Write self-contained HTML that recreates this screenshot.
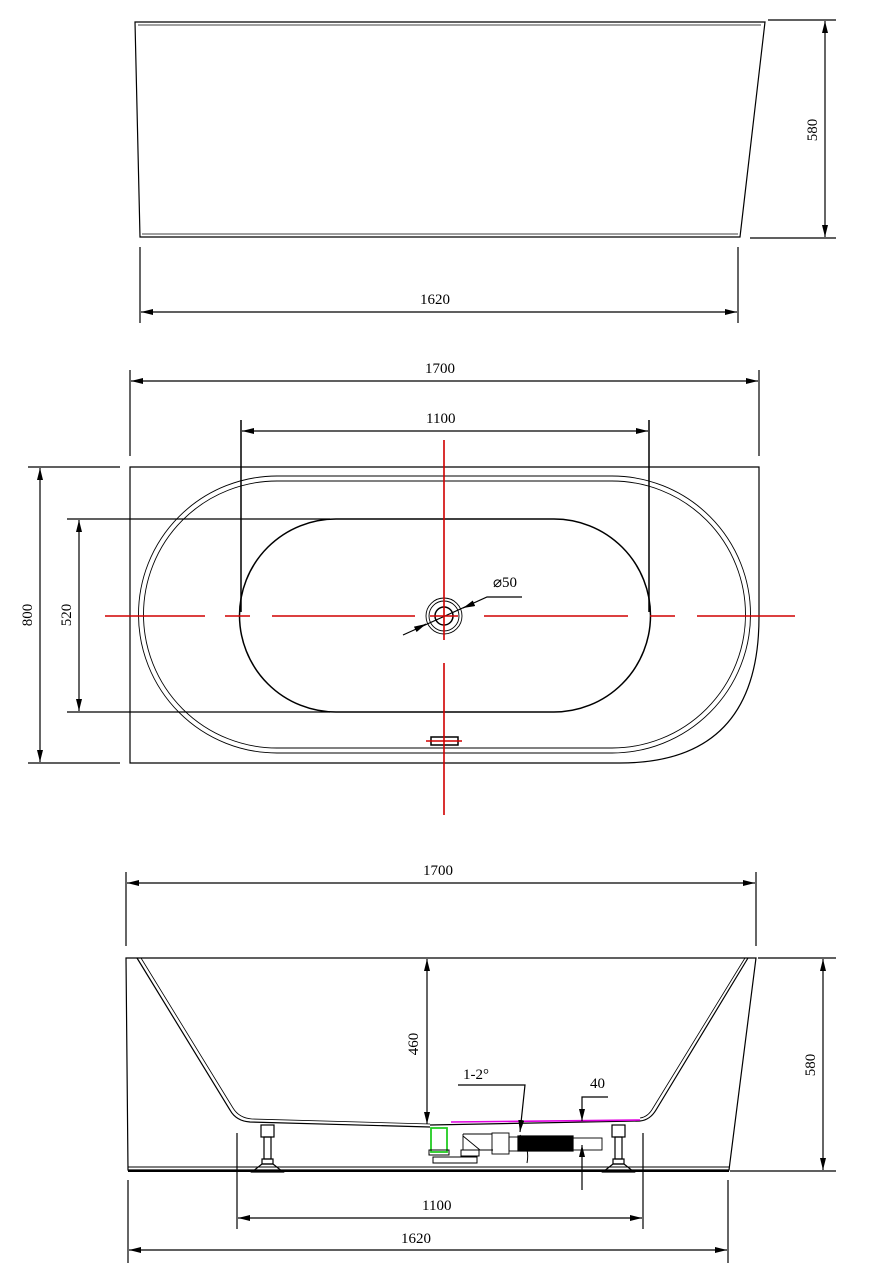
<!DOCTYPE html>
<html><head><meta charset="utf-8"><style>html,body{margin:0;padding:0;background:#fff}svg{display:block}text{font-family:"Liberation Serif",serif;font-size:15px;fill:#000}</style></head><body>
<svg width="888" height="1288" viewBox="0 0 888 1288" xmlns="http://www.w3.org/2000/svg">
<defs>
<marker id="a" viewBox="0 0 12 6" refX="12" refY="3" markerWidth="12" markerHeight="6" orient="auto-start-reverse" markerUnits="userSpaceOnUse"><path d="M0,0L12,3L0,6z" fill="#000"/></marker>
</defs>
<g fill="none" stroke="#000" stroke-width="1.2">
<!-- TOP VIEW -->
<polygon points="135,22 765,22 740,237 140,237"/>
<polyline points="138,25 761,25" stroke-width="0.8"/>
<line x1="142" y1="234" x2="738" y2="234" stroke-width="0.8"/>
<line x1="140" y1="247" x2="140" y2="323"/>
<line x1="738" y1="247" x2="738" y2="323"/>
<line x1="141" y1="312" x2="737" y2="312" marker-start="url(#a)" marker-end="url(#a)"/>
<line x1="768" y1="20" x2="836" y2="20"/>
<line x1="750" y1="238" x2="836" y2="238"/>
<line x1="825" y1="21" x2="825" y2="237" marker-start="url(#a)" marker-end="url(#a)"/>

<!-- PLAN VIEW -->
<path d="M130,467 L759,467 L759,617 Q759,763 620,763 L130,763 Z"/>
<path d="M277,476 L612,476 A138,138 0 0 1 612,753 L277,753 A138,138 0 0 1 277,476 Z" stroke-width="0.9"/>
<path d="M277,481 L612,481 A133,133 0 0 1 612,748 L277,748 A133,133 0 0 1 277,481 Z" stroke-width="0.9"/>
<path d="M336,519 L554,519 A96.5,96.5 0 0 1 554,712 L336,712 A96.5,96.5 0 0 1 336,519 Z" stroke-width="1.5"/>
<line x1="130" y1="370" x2="130" y2="456"/>
<line x1="759" y1="370" x2="759" y2="456"/>
<line x1="131" y1="381" x2="758" y2="381" marker-start="url(#a)" marker-end="url(#a)"/>
<line x1="241" y1="420" x2="241" y2="612" stroke-width="1.5"/>
<line x1="649" y1="420" x2="649" y2="612" stroke-width="1.5"/>
<line x1="242" y1="431" x2="648" y2="431" marker-start="url(#a)" marker-end="url(#a)"/>
<line x1="28" y1="467" x2="120" y2="467"/>
<line x1="28" y1="763" x2="120" y2="763"/>
<line x1="40" y1="468" x2="40" y2="762" marker-start="url(#a)" marker-end="url(#a)"/>
<line x1="67" y1="519" x2="330" y2="519"/>
<line x1="67" y1="712" x2="330" y2="712"/>
<line x1="79" y1="520" x2="79" y2="711" marker-start="url(#a)" marker-end="url(#a)"/>
<circle cx="444" cy="616" r="18" stroke-width="0.9"/>
<circle cx="444" cy="616" r="15" stroke-width="0.9"/>
<circle cx="444" cy="616" r="9" stroke-width="1.5"/>
<polyline points="403,635 487,597 522,597"/>
<line x1="420" y1="627" x2="426" y2="624" marker-end="url(#a)"/>
<line x1="470" y1="605" x2="463" y2="608" marker-end="url(#a)"/>
<rect x="431" y="737" width="27" height="8" stroke-width="1.5"/>
</g>
<g stroke="#d00000" stroke-width="1.6" fill="none">
<path d="M105,616H205M225,616H250M272,616H415M430,616H458M484,616H628M650,616H675M697,616H795"/>
<path d="M444,440V640M444,663V815M426,741H462"/>
</g>
<g fill="none" stroke="#000" stroke-width="1.2">
<!-- FRONT VIEW -->
<line x1="126" y1="872" x2="126" y2="946"/>
<line x1="756" y1="872" x2="756" y2="946"/>
<line x1="127" y1="883" x2="755" y2="883" marker-start="url(#a)" marker-end="url(#a)"/>
<path d="M126,958 L756,958 L729,1170 L128,1170 Z"/>
<line x1="128" y1="1167" x2="729" y2="1167" stroke-width="1"/>
<line x1="128" y1="1171" x2="729" y2="1171" stroke-width="2"/>
<path d="M137,958 L230,1110 Q236,1121 250,1122 L430,1127 M640,1121 Q650,1120 656,1110 L748,958" />
<path d="M141,958 L233,1108 Q239,1118 252,1119 L430,1124 M640,1118 Q648,1117 653,1108 L745,958" stroke-width="0.8"/>
<line x1="430" y1="1125" x2="640" y2="1121"/>
<!-- legs -->
<rect x="261" y="1125" width="13" height="12"/>
<rect x="264" y="1137" width="7" height="22"/>
<rect x="262" y="1159" width="11" height="5"/>
<path d="M252,1172 L262,1164 L273,1164 L283,1172 Z"/>
<rect x="612" y="1125" width="13" height="12"/>
<rect x="615" y="1137" width="7" height="22"/>
<rect x="613" y="1159" width="11" height="5"/>
<path d="M603,1172 L613,1164 L624,1164 L634,1172 Z"/>
<!-- drain -->
<rect x="431" y="1128" width="16" height="24" stroke="#22cc22" stroke-width="1.8"/>
<rect x="429" y="1150" width="20" height="5" stroke-width="1"/>
<rect x="433" y="1157" width="44" height="6" stroke-width="1"/>
<rect x="461" y="1150" width="18" height="6" stroke-width="1"/>
<path d="M463,1134 L463,1150 M463,1136 L480,1150 L493,1150 M463,1134 L492,1134" stroke-width="0.9"/>
<rect x="492" y="1133" width="17" height="21" stroke-width="0.9"/>
<rect x="509" y="1137" width="9" height="14" stroke-width="0.9"/>
<rect x="518" y="1136" width="55" height="15" fill="#000"/>
<rect x="573" y="1138" width="29" height="12" stroke-width="0.9"/>
<path d="M520,1135 Q530,1148 527,1163" stroke-width="1"/>
<line x1="451" y1="1122" x2="640" y2="1120" stroke="#e000e0" stroke-width="1.6"/>
<polyline points="458,1085 525,1085 520,1132" marker-end="url(#a)"/>
<polyline points="608,1097 582,1097 582,1121" marker-end="url(#a)"/>
<line x1="582" y1="1190" x2="582" y2="1145" marker-end="url(#a)"/>
<line x1="427" y1="959" x2="427" y2="1124" marker-start="url(#a)" marker-end="url(#a)"/>
<line x1="758" y1="958" x2="836" y2="958"/>
<line x1="730" y1="1171" x2="836" y2="1171"/>
<line x1="823" y1="959" x2="823" y2="1170" marker-start="url(#a)" marker-end="url(#a)"/>
<line x1="237" y1="1133" x2="237" y2="1229"/>
<line x1="643" y1="1133" x2="643" y2="1229"/>
<line x1="238" y1="1218" x2="642" y2="1218" marker-start="url(#a)" marker-end="url(#a)"/>
<line x1="128" y1="1180" x2="128" y2="1263"/>
<line x1="728" y1="1180" x2="728" y2="1263"/>
<line x1="129" y1="1250" x2="727" y2="1250" marker-start="url(#a)" marker-end="url(#a)"/>
</g>
<g>
<text x="420" y="304">1620</text>
<text x="817" y="130" transform="rotate(-90 817 130)" text-anchor="middle">580</text>
<text x="425" y="373">1700</text>
<text x="426" y="423">1100</text>
<text x="32" y="615" transform="rotate(-90 32 615)" text-anchor="middle">800</text>
<text x="71" y="615" transform="rotate(-90 71 615)" text-anchor="middle">520</text>
<text x="493" y="587">⌀50</text>
<text x="423" y="875">1700</text>
<text x="418" y="1044" transform="rotate(-90 418 1044)" text-anchor="middle">460</text>
<text x="815" y="1065" transform="rotate(-90 815 1065)" text-anchor="middle">580</text>
<text x="463" y="1079">1-2°</text>
<text x="590" y="1088">40</text>
<text x="422" y="1210">1100</text>
<text x="401" y="1243">1620</text>
</g>
</svg>
</body></html>
